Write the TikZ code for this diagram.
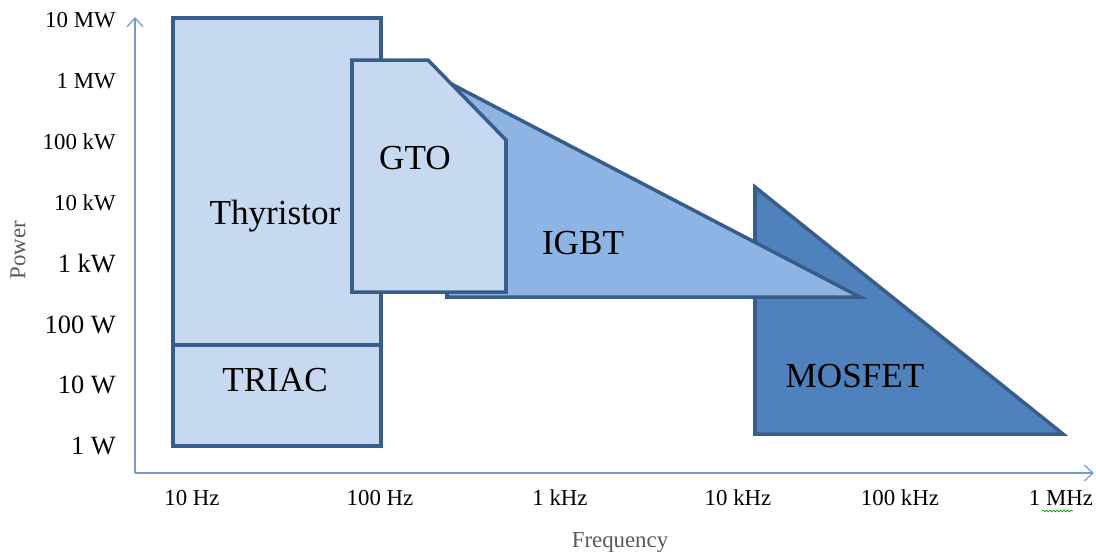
\documentclass[tikz,border=0pt]{standalone}
\usepackage{fontspec}
\setmainfont{Liberation Serif}
\usetikzlibrary{arrows.meta,decorations.pathmorphing}
\definecolor{lightfill}{HTML}{C6D9F1}
\definecolor{midfill}{HTML}{8EB4E3}
\definecolor{darkfill}{HTML}{4F81BD}
\definecolor{edgeblue}{HTML}{385D8A}
\definecolor{axisblue}{HTML}{739AD0}

\begin{document}
\begin{tikzpicture}[x=0.02cm, y=-0.02cm,
    region/.style={draw=edgeblue, line width=2pt, line join=miter},
    axis/.style={draw=axisblue, line width=0.7pt, -{Straight Barb[length=5pt,width=9pt]}},
    devlabel/.style={font=\fontsize{20}{24}\selectfont, inner sep=0pt},
    ylab/.style={anchor=east, inner sep=0pt},
    xlab/.style={font=\fontsize{13}{15}\selectfont, inner sep=0pt},
    axtitle/.style={font=\fontsize{13}{15}\selectfont, text=black!65, inner sep=0pt}]
  \useasboundingbox (0,0) rectangle (1096,556);
  \draw[axis] (135,473) -- (135,17);
  \draw[axis] (135,473) -- (1094,473);
  \draw[region, fill=lightfill] (173,18) rectangle (381,446);
  \draw[region] (173,345) -- (381,345);
  \draw[region, fill=darkfill] (755,187) -- (1063,434) -- (755,434) -- cycle;
  \draw[region, fill=midfill] (438,77) -- (860,297) -- (447,297) -- (447,200) -- cycle;
  \draw[region, fill=lightfill] (352,60) -- (428,60) -- (506,140) -- (506,292) -- (352,292) -- cycle;
  \node[devlabel] (thyristor) at (275,216) {Thyristor};
  \node[devlabel] (triac) at (275,380) {TRIAC};
  \node[devlabel] (gto) at (415,158) {GTO};
  \node[devlabel] (igbt) at (583,243) {IGBT};
  \node[devlabel] (mosfet) at (855,376) {MOSFET};
  \foreach \lab [count=\i from 0] in {10 MW, 1 MW, 100 kW, 10 kW}
    \node[ylab, font=\fontsize{13}{15}\selectfont] (p\i) at (116,20+60.9*\i) {\lab};
  \foreach \lab [count=\i from 4] in {1 kW, 100 W, 10 W, 1 W}
    \node[ylab, font=\fontsize{15}{17}\selectfont] (p\i) at (116,20+60.9*\i) {\lab};
  \foreach \lab/\xpos [count=\i from 0] in {10 Hz/192, 100 Hz/380, 1 kHz/560, 10 kHz/738, 100 kHz/900, 1 MHz/1061}
    \node[xlab] (f\i) at (\xpos,498) {\lab};
  \draw[green!60!black, line width=0.4pt, decorate, decoration={zigzag, amplitude=0.5pt, segment length=2pt}] (1042,511) -- (1073,511);
  \node[axtitle] (freq) at (620,542) {Frequency};
  \node[axtitle, rotate=90] (power) at (18,250) {Power};
\end{tikzpicture}
\end{document}
